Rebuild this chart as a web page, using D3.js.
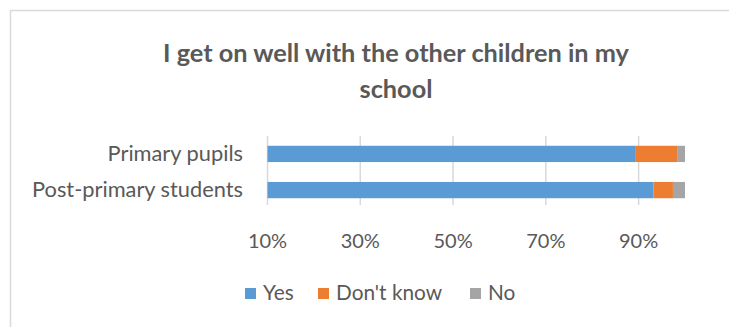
<!DOCTYPE html>
<html>
<head>
<meta charset="utf-8">
<script src="https://cdn.jsdelivr.net/npm/d3@7"></script>
<style>
  html, body { margin: 0; padding: 0; background: #fff; }
  svg { display: block; font-family: Lato, "Open Sans", sans-serif; }
</style>
</head>
<body>
<svg id="chart" width="729" height="327"></svg>
<script>
// Survey responses (percent of respondents)
const categories = ["Primary pupils", "Post-primary students"];
const seriesNames = ["Yes", "Don't know", "No"];
const yesValues = [89.4, 93.2];
const dontKnowValues = [8.9, 4.2];
const noValues = [1.7, 2.6];
const tickValues = [10, 30, 50, 70, 90];
const colors = ["#5b9bd5", "#ed7d31", "#a5a5a5"];

const svg = d3.select("#chart");
const textColor = "#595959";

// outer chart frame
svg.append("rect")
  .attr("x", 10.5).attr("y", 10.5)
  .attr("width", 740).attr("height", 340)
  .attr("fill", "none").attr("stroke", "#d9d9d9").attr("stroke-width", 1.5);

// title
const title = svg.append("text")
  .attr("text-anchor", "middle")
  .attr("fill", textColor)
  .attr("font-weight", "bold")
  .attr("font-size", 25.3);
title.append("tspan").attr("x", 396).attr("y", 62).text("I get on well with the other children in my");
title.append("tspan").attr("x", 396).attr("y", 98).text("school");

const axisMin = 10;
const x = d3.scaleLinear().domain([axisMin, 100]).range([267.5, 685]);
const y = d3.scaleBand().domain(categories).range([136, 208]).paddingInner(0.55).paddingOuter(0.27);

// gridlines
svg.append("g")
  .selectAll("line")
  .data(tickValues)
  .join("line")
  .attr("x1", d => x(d)).attr("x2", d => x(d))
  .attr("y1", 136).attr("y2", 205)
  .attr("stroke", "#d9d9d9").attr("stroke-width", 1.5);

// stacked series (bars are clipped at the axis minimum)
const rows = categories.map((c, i) => ({
  category: c,
  "Yes": yesValues[i],
  "Don't know": dontKnowValues[i],
  "No": noValues[i]
}));
const stacked = d3.stack().keys(seriesNames)(rows);

svg.append("g")
  .selectAll("g")
  .data(stacked)
  .join("g")
  .attr("fill", (d, i) => colors[i])
  .selectAll("rect")
  .data(d => d)
  .join("rect")
  .attr("x", d => x(Math.max(d[0], axisMin)))
  .attr("width", d => x(d[1]) - x(Math.max(d[0], axisMin)))
  .attr("y", d => y(d.data.category))
  .attr("height", y.bandwidth());

// category axis labels
svg.append("g")
  .selectAll("text")
  .data(categories)
  .join("text")
  .attr("x", 243)
  .attr("y", d => y(d) + y.bandwidth() / 2 + 7)
  .attr("text-anchor", "end")
  .attr("fill", textColor)
  .attr("font-size", 21.8)
  .text(d => d);

// value axis tick labels
svg.append("g")
  .selectAll("text")
  .data(tickValues)
  .join("text")
  .attr("x", d => x(d))
  .attr("y", 248)
  .attr("text-anchor", "middle")
  .attr("fill", textColor)
  .attr("font-size", 20)
  .text(d => d + "%");

// legend
const legendX = [245, 318, 470];
const legend = svg.append("g")
  .selectAll("g")
  .data(seriesNames)
  .join("g")
  .attr("transform", (d, i) => `translate(${legendX[i]},288)`);
legend.append("rect")
  .attr("width", 11).attr("height", 11)
  .attr("fill", (d, i) => colors[i]);
legend.append("text")
  .attr("x", 18).attr("y", 12)
  .attr("fill", textColor)
  .attr("font-size", 20.8)
  .text(d => d);
</script>
</body>
</html>
